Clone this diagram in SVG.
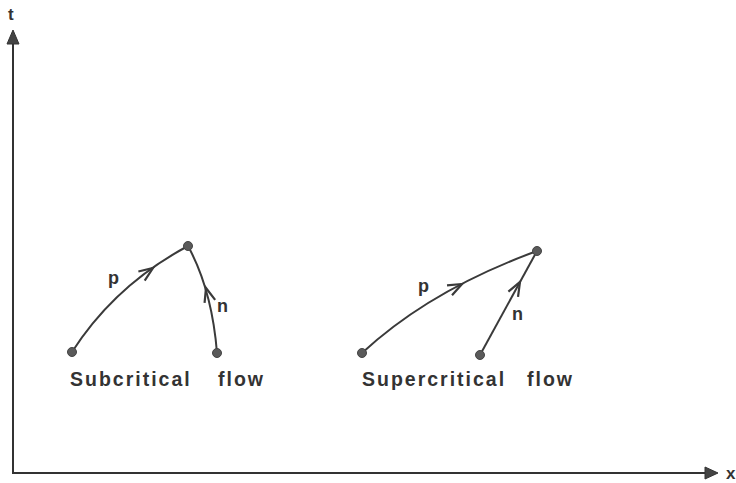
<svg xmlns="http://www.w3.org/2000/svg" width="736" height="483" viewBox="0 0 736 483">
<defs>
<style>
.ax{stroke:#333;stroke-width:2;fill:none}
.ah{fill:#444;stroke:#333;stroke-width:1}
.cv{stroke:#3a3a3a;stroke-width:2;fill:none}
.dot{fill:#5a5a5a;stroke:#444;stroke-width:1}
.lbl{font-family:"Liberation Sans",Arial,sans-serif;font-weight:bold;fill:#333}
.cap{font-size:19.5px;letter-spacing:2px}
.var{font-size:18px}
</style>
<path id="chev" d="M-14,-5.5 L0,0 L-14,5.5" fill="none" stroke="#3a3a3a" stroke-width="2.2"/>
</defs>
<rect width="736" height="483" fill="#fff"/>
<g id="axes">
<line class="ax" x1="13" y1="473" x2="13" y2="42"/>
<polygon class="ah" points="13,30 7,44 19,44"/>
<line class="ax" x1="12" y1="473" x2="707" y2="473"/>
<polygon class="ah" points="718,473 705,467 705,479"/>
<text class="lbl" x="8" y="20" font-size="17">t</text>
<text class="lbl" x="726" y="479" font-size="17">x</text>
</g>
<g id="connectors">
<path class="cv" d="M72,352 Q115,285 188,246"/>
<path class="cv" d="M217,353 Q212,290 188,246"/>
<path class="cv" d="M362,353 Q430,290 537,251"/>
<path class="cv" d="M480,355 L537,251"/>
<use href="#chev" transform="translate(153,268) rotate(-35)"/>
<use href="#chev" transform="translate(206,288) rotate(-106)"/>
<use href="#chev" transform="translate(462,284) rotate(-27)"/>
<use href="#chev" transform="translate(520,282) rotate(-61)"/>
</g>
<g id="sub-start"><circle class="dot" cx="72" cy="352" r="4.5"/></g>
<g id="sub-top"><circle class="dot" cx="188" cy="246" r="4.5"/></g>
<g id="sub-n-start"><circle class="dot" cx="217" cy="353" r="4.5"/></g>
<g id="sup-start"><circle class="dot" cx="362" cy="353" r="4.5"/></g>
<g id="sup-top"><circle class="dot" cx="537" cy="251" r="4.5"/></g>
<g id="sup-n-start"><circle class="dot" cx="480" cy="355" r="4.5"/></g>
<g id="labels">
<text class="lbl var" x="108" y="284">p</text>
<text class="lbl var" x="217" y="312">n</text>
<text class="lbl var" x="418" y="292">p</text>
<text class="lbl var" x="512" y="320">n</text>
<text class="lbl cap" y="386"><tspan x="70">Subcritical</tspan><tspan x="218">flow</tspan></text>
<text class="lbl cap" y="386"><tspan x="362">Supercritical</tspan><tspan x="527">flow</tspan></text>
</g>
</svg>
